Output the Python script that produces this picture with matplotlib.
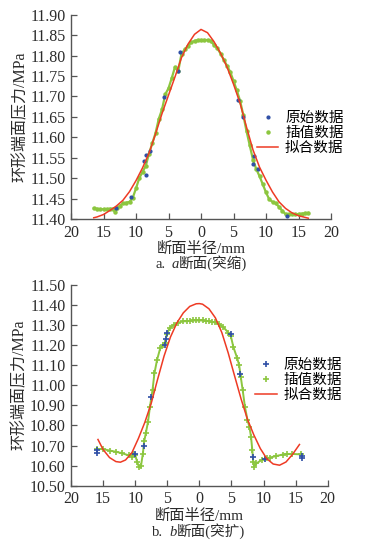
import matplotlib
matplotlib.use("Agg")
import matplotlib.pyplot as plt
from matplotlib.ticker import FuncFormatter, MultipleLocator
from matplotlib.offsetbox import TextArea, HPacker, AnchoredOffsetbox

plt.rcParams['font.family'] = ['Liberation Serif', 'Noto Sans CJK SC']
plt.rcParams['axes.unicode_minus'] = False

# ---- a 断面 (突缩) ----
a_green_x = [-16.5, -16, -15.5, -15, -14.5, -14, -13.5, -13.2, -13, -12.5, -12, -11.5, -11,
             -10.5, -10, -9.5, -9, -8.5, -8, -7.5, -7, -6.5, -6, -5.5, -5, -4.5, -4, -3.5,
             -3, -2.5, -2, -1.5, -1, -0.5, 0, 0.5, 1, 1.5, 2, 2.5, 3, 3.5, 4, 4.5, 5, 5.5,
             6, 6.5, 7, 7.5, 8, 8.5, 9, 9.5, 10, 10.5, 11, 11.5, 12, 12.5, 13, 13.5, 14,
             14.5, 15, 15.5, 16, 16.5]
a_green_y = [11.426, 11.425, 11.424, 11.424, 11.424, 11.425, 11.425, 11.416, 11.426, 11.432,
             11.438, 11.440, 11.442, 11.452, 11.475, 11.500, 11.515, 11.530, 11.560, 11.585,
             11.610, 11.645, 11.668, 11.705, 11.720, 11.745, 11.772, 11.762, 11.805, 11.815,
             11.824, 11.832, 11.836, 11.838, 11.838, 11.838, 11.838, 11.836, 11.826, 11.818,
             11.805, 11.790, 11.775, 11.760, 11.738, 11.715, 11.690, 11.655, 11.615, 11.580,
             11.545, 11.522, 11.505, 11.485, 11.465, 11.448, 11.442, 11.438, 11.430, 11.420,
             11.412, 11.411, 11.411, 11.412, 11.412, 11.413, 11.414, 11.415]
a_blue_x = [-13.1, -10.7, -8.7, -8.5, -8.4, -7.9, -5.7, -3.6, -3.2, 5.7, 6.4, 8.0, 8.1, 8.7, 13.3]
a_blue_y = [11.426, 11.453, 11.542, 11.508, 11.556, 11.567, 11.698, 11.763, 11.809,
            11.691, 11.649, 11.534, 11.554, 11.522, 11.408]
a_fit_x = [-16.5, -16, -15, -14, -13, -12, -11, -10, -9, -8, -7, -6, -5, -4, -3, -2, -1, 0,
           1, 2, 3, 4, 5, 6, 7, 8, 9, 10, 11, 12, 13, 14, 15, 16, 16.5]
a_fit_y = [11.403, 11.405, 11.411, 11.421, 11.432, 11.446, 11.467, 11.494, 11.525, 11.561,
           11.608, 11.658, 11.703, 11.748, 11.795, 11.828, 11.852, 11.864, 11.856, 11.834,
           11.806, 11.772, 11.730, 11.684, 11.625, 11.569, 11.527, 11.495, 11.466, 11.442,
           11.426, 11.415, 11.408, 11.404, 11.402]

# ---- b 断面 (突扩) ----
b_green_x = [-15.9, -15, -14, -13, -12, -11, -10.5, -10.3, -10, -9.7, -9.4, -9.1, -8.8, -8.6,
             -8.35, -8, -7.7, -7.3, -7, -6.6, -6.1, -5.6, -5.3, -5.1, -4.6, -4, -3.3, -2.5,
             -2, -1.5, -1, -0.5, 0, 0.5, 1, 1.5, 2, 2.5, 3, 3.7, 4.5, 4.9, 5.3, 5.9, 6.2,
             6.45, 6.75, 7.1, 7.5, 7.8, 8.05, 8.25, 8.4, 8.55, 8.9, 9.7, 10.5, 11, 12, 13,
             13.6, 14.5, 15.8]
b_green_y = [10.683, 10.682, 10.675, 10.669, 10.661, 10.651, 10.645, 10.660, 10.652, 10.620,
             10.592, 10.598, 10.660, 10.720, 10.760, 10.818, 10.893, 10.976, 11.059, 11.125,
             11.184, 11.200, 11.210, 11.255, 11.285, 11.300, 11.311, 11.318, 11.318, 11.320,
             11.322, 11.322, 11.322, 11.322, 11.320, 11.318, 11.315, 11.312, 11.305, 11.290,
             11.262, 11.245, 11.190, 11.134, 11.100, 11.042, 10.976, 10.893, 10.827, 10.793,
             10.744, 10.678, 10.620, 10.595, 10.611, 10.628, 10.636, 10.640, 10.648, 10.655,
             10.658, 10.658, 10.656]
b_blue_x = [-16.0, -16.0, -10.1, -8.6, -7.5, -5.3, -5.2, -5.0, 4.9, 6.3, 8.3, 10.3, 15.95, 15.95]
b_blue_y = [10.677, 10.664, 10.656, 10.700, 10.943, 11.200, 11.229, 11.261, 11.255, 11.056,
            10.641, 10.631, 10.650, 10.640]
b_fit_x = [-15.8, -15, -14, -13, -12.3, -11.5, -10.5, -9.5, -8.5, -7.5, -6.5, -5.5, -4.5,
           -3.5, -2.5, -1.5, -0.5, 0, 0.5, 1.5, 2.5, 3.5, 4.5, 5.5, 6.5, 7.5, 8.5, 9.5,
           10.5, 11.5, 12.5, 13.5, 14.5, 15.6]
b_fit_y = [10.730, 10.680, 10.640, 10.620, 10.617, 10.628, 10.665, 10.735, 10.815, 10.910,
           11.030, 11.145, 11.240, 11.310, 11.360, 11.392, 11.405, 11.406, 11.403, 11.380,
           11.335, 11.262, 11.160, 11.045, 10.932, 10.830, 10.752, 10.685, 10.635, 10.608,
           10.602, 10.618, 10.655, 10.705]

labels = ['原始数据', '插值数据', '拟合数据']
green = '#8cc63f'
blue = '#2f4fa6'
red = '#ee3a24'
txt = '#2b2b2b'
fam = ['Liberation Serif', 'Noto Sans CJK SC']

fig = plt.figure(figsize=(3.71, 5.43), dpi=100)
ax1 = fig.add_axes([0.1914, 0.5967, 0.7008, 0.3762])
ax2 = fig.add_axes([0.1914, 0.1055, 0.6919, 0.3702])


def style(ax, ylim, ystep):
    ax.set_xlim(-20, 20)
    ax.set_ylim(*ylim)
    ax.xaxis.set_major_locator(MultipleLocator(5))
    ax.yaxis.set_major_locator(MultipleLocator(ystep))
    ax.xaxis.set_major_formatter(FuncFormatter(lambda v, p: '%d' % abs(round(v))))
    ax.yaxis.set_major_formatter(FuncFormatter(lambda v, p: '%.2f' % v))
    for s in ['top', 'right']:
        ax.spines[s].set_visible(False)
    for s in ['left', 'bottom']:
        ax.spines[s].set_color('#555555')
        ax.spines[s].set_linewidth(1.0)
    ax.tick_params(direction='in', length=4, width=0.9, color='#555555',
                   labelsize=11.5, labelcolor=txt, pad=4)
    ax.set_ylabel('环形端面压力/MPa', fontsize=11.5, color=txt, labelpad=1)
    ax.set_xlabel('断面半径/mm', fontsize=11, color=txt, labelpad=1)


def caption(letter, rest, x, y):
    parts = [TextArea(letter + '.', textprops=dict(fontsize=10.5, color=txt, family=fam)),
             TextArea(letter, textprops=dict(fontsize=10.5, color=txt, style='italic',
                                             family='Liberation Serif')),
             TextArea(rest, textprops=dict(fontsize=10.5, color=txt, family=fam))]
    inner = HPacker(children=parts[1:], align='baseline', pad=0, sep=0)
    box = HPacker(children=[parts[0], inner], align='baseline', pad=0, sep=4)
    ab = AnchoredOffsetbox(loc='center', child=box, pad=0, borderpad=0, frameon=False,
                           bbox_to_anchor=(x, y), bbox_transform=fig.transFigure)
    fig.add_artist(ab)


def add_legend(ax, x, y):
    h, l = ax.get_legend_handles_labels()
    ax.legend([h[1], h[0], h[2]], labels, loc='upper left', bbox_to_anchor=(x, y),
              bbox_transform=fig.transFigure, frameon=False,
              handlelength=1.5, handletextpad=0.45, labelspacing=0.12, borderpad=0,
              prop=dict(family=fam, size=10.5))


# top chart
ax1.plot(a_green_x, a_green_y, '-', color=green, lw=1.6, zorder=2)
ax1.plot(a_green_x, a_green_y, 'o', color=green, ms=2.2, zorder=2, label=labels[1])
ax1.plot(a_blue_x, a_blue_y, 'o', color=blue, ms=2, zorder=3, label=labels[0])
ax1.plot(a_fit_x, a_fit_y, '-', color=red, lw=1.1, zorder=4, label=labels[2])
style(ax1, (11.40, 11.90), 0.05)
add_legend(ax1, 0.672, 0.807)
caption('a', '断面(突缩)', 0.542, 0.515)

# bottom chart
ax2.plot(b_green_x, b_green_y, '-', color=green, lw=1.4, zorder=2)
ax2.plot(b_green_x, b_green_y, '+', color=green, ms=4, mew=1.2, zorder=2, label=labels[1])
ax2.plot(b_blue_x, b_blue_y, '+', color=blue, ms=4, mew=1.2, zorder=3, label=labels[0])
ax2.plot(b_fit_x, b_fit_y, '-', color=red, lw=1.1, zorder=4, label=labels[2])
style(ax2, (10.50, 11.50), 0.10)
add_legend(ax2, 0.668, 0.352)
caption('b', '断面(突扩)', 0.535, 0.022)

fig.savefig('out.png', dpi=100, facecolor='white')
